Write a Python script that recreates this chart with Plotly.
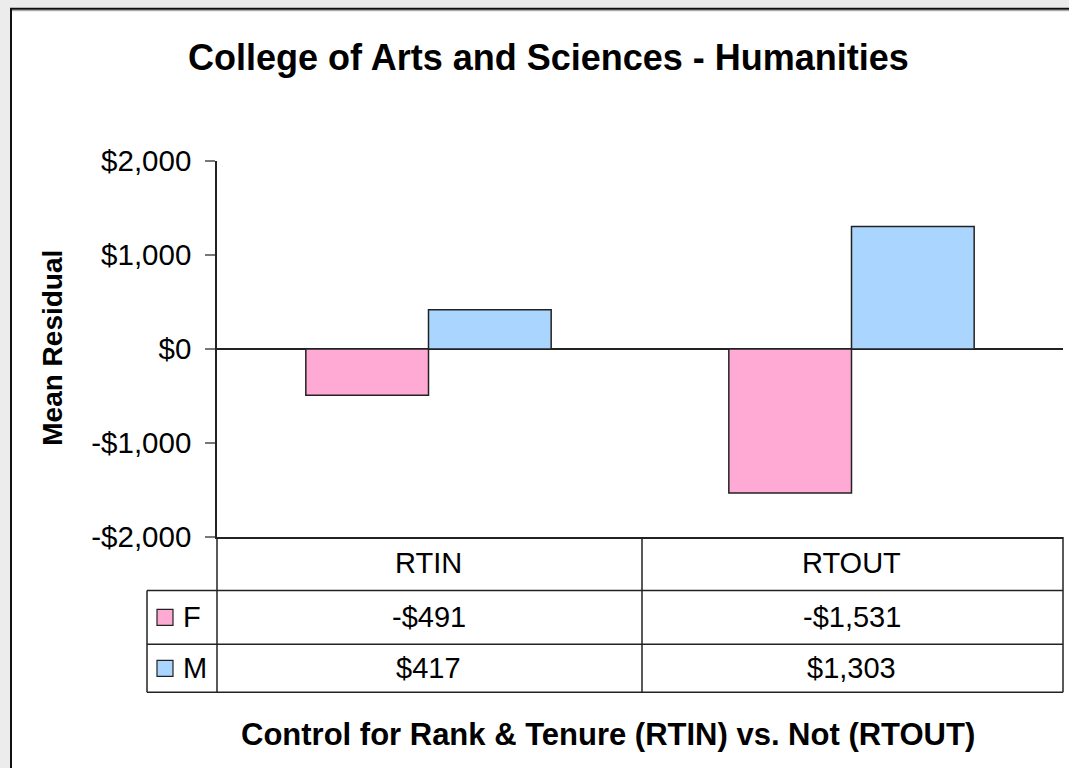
import plotly.graph_objects as go

# ---------------- data ----------------
categories = ["RTIN", "RTOUT"]
series_names = ["F", "M"]
f_values = [-491, -1531]
m_values = [417, 1303]
y_tick_values = [-2000, -1000, 0, 1000, 2000]
y_tick_labels = ["-$2,000", "-$1,000", "$0", "$1,000", "$2,000"]
title_text = "College of Arts and Sciences - Humanities"
y_title = "Mean Residual"
x_title = "Control for Rank &amp; Tenure (RTIN) vs. Not (RTOUT)"

# ---------------- style ----------------
colors = {"F": "#FFAAD4", "M": "#AAD5FF"}
FONT = "Liberation Sans, Arial, sans-serif"
LINE = "#222222"

# plot-area pixel geometry
L, R, T, B = 217, 1063, 161, 537.5
W, H = R - L, B - T


def px(x):
    return (x - L) / W


def py(y):
    return (B - y) / H


def money(v):
    return f"-${abs(v):,}" if v < 0 else f"${v:,}"


series_values = {"F": f_values, "M": m_values}

fig = go.Figure()
for name in series_names:
    fig.add_trace(go.Bar(
        x=categories, y=series_values[name], name=name,
        marker=dict(color=colors[name], line=dict(color=LINE, width=1.5)),
        showlegend=False, hoverinfo="skip",
    ))

shapes = []
# chart area (white with dark border, extends past right/bottom)
shapes.append(dict(type="rect", xref="paper", yref="paper", layer="below",
                   x0=px(11), x1=px(1120), y0=py(820), y1=py(8.5),
                   fillcolor="white", line=dict(color="#111111", width=2)))
shapes.append(dict(type="line", xref="paper", yref="paper", layer="below",
                   x0=px(12), x1=px(1120), y0=py(10.5), y1=py(10.5),
                   line=dict(color="#999999", width=1)))

# data table lines
row_lines = [591, 645, 693]
for yy in row_lines:
    shapes.append(dict(type="line", xref="paper", yref="paper",
                       x0=px(147), x1=px(R), y0=py(yy), y1=py(yy),
                       line=dict(color=LINE, width=1.5)))
for xx, ytop in [(147, 591), (L, B), (642, B), (R, B)]:
    shapes.append(dict(type="line", xref="paper", yref="paper",
                       x0=px(xx), x1=px(xx), y0=py(ytop), y1=py(693),
                       line=dict(color=LINE, width=1.5)))

annotations = []
row_centers = [618, 669]
# legend keys in table
for name, yc in zip(series_names, row_centers):
    shapes.append(dict(type="rect", xref="paper", yref="paper",
                       x0=px(157), x1=px(173), y0=py(yc + 8), y1=py(yc - 8),
                       fillcolor=colors[name], line=dict(color=LINE, width=1.2)))
    annotations.append(dict(text=name, xref="paper", yref="paper",
                            x=px(181), y=py(yc), xanchor="left", yanchor="middle",
                            showarrow=False, font=dict(family=FONT, size=29, color="black")))

# header and values
for i, cat in enumerate(categories):
    annotations.append(dict(text=cat, xref="x", yref="paper", x=cat, y=py(564),
                            xanchor="center", yanchor="middle", showarrow=False,
                            font=dict(family=FONT, size=29, color="black")))
    for name, yc in zip(series_names, row_centers):
        annotations.append(dict(text=money(series_values[name][i]), xref="x", yref="paper",
                                x=cat, y=py(yc), xanchor="center", yanchor="middle",
                                showarrow=False,
                                font=dict(family=FONT, size=29, color="black")))

# titles
annotations.append(dict(text=title_text, xref="paper", yref="paper", x=px(548), y=py(57),
                        xanchor="center", yanchor="middle", showarrow=False,
                        font=dict(family=FONT, size=36, color="black", weight="bold")))
annotations.append(dict(text=y_title, xref="paper", yref="paper", x=px(53), y=py(348),
                        xanchor="center", yanchor="middle", textangle=-90, showarrow=False,
                        font=dict(family=FONT, size=28, color="black", weight="bold")))
annotations.append(dict(text=x_title, xref="paper", yref="paper", x=px(608), y=py(735),
                        xanchor="center", yanchor="middle", showarrow=False,
                        font=dict(family=FONT, size=31, color="black", weight="bold")))

fig.update_layout(
    width=1069, height=768,
    margin=dict(l=L, r=1069 - R, t=T, b=768 - B, pad=0),
    paper_bgcolor="#ECECEC", plot_bgcolor="white",
    barmode="group", bargap=0.42, bargroupgap=0,
    shapes=shapes, annotations=annotations,
    showlegend=False,
    xaxis=dict(showticklabels=False, ticks="", showgrid=False, zeroline=False,
               showline=True, linecolor=LINE, linewidth=1.5, automargin=False,
               fixedrange=True),
    yaxis=dict(range=[-2000, 2000], tickvals=y_tick_values, ticktext=y_tick_labels,
               ticks="outside", ticklen=10, tickcolor="#777777", tickwidth=1.5,
               tickfont=dict(family=FONT, size=29.5, color="black"),
               ticklabelstandoff=8,
               showline=True, linecolor=LINE, linewidth=1.5, showgrid=False,
               zeroline=True, zerolinecolor=LINE, zerolinewidth=1.5,
               automargin=False, fixedrange=True),
)

fig.write_html("out.html", config={"displayModeBar": False},
               post_script="document.body.style.margin='0px';document.body.style.overflow='hidden';")
